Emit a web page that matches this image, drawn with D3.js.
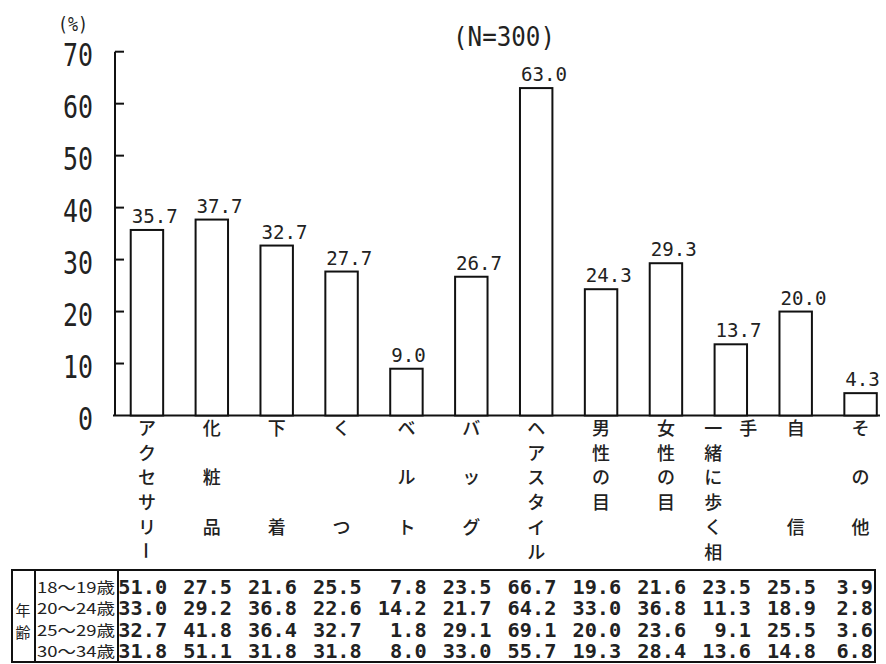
<!DOCTYPE html>
<html><head><meta charset="utf-8">
<script src="https://cdn.jsdelivr.net/npm/d3@7"></script>
<style>body{margin:0;background:#fff}</style>
</head><body>
<script>
const categories = ["アクセサリー","化粧品","下着","くつ","ベルト","バッグ","ヘアスタイル","男性の目","女性の目","一緒に歩く相手","自信","その他"];
const values = [35.7,37.7,32.7,27.7,9.0,26.7,63.0,24.3,29.3,13.7,20.0,4.3];
// vertical label layout: columns of characters, "　" = empty row
const labelColumns = [
  ["アクセサリー"],["化　粧　品"],["下　　　着"],["く　　　つ"],["ベ　ル　ト"],["バ　ッ　グ"],
  ["ヘアスタイル"],["男性の目"],["女性の目"],["一緒に歩く相","手"],["自　　　信"],["そ　の　他"]
];
const yTicks = [0,10,20,30,40,50,60,70];
const ageGroups = ["18〜19歳","20〜24歳","25〜29歳","30〜34歳"];
const age18_19 = [51.0,27.5,21.6,25.5,7.8,23.5,66.7,19.6,21.6,23.5,25.5,3.9];
const age20_24 = [33.0,29.2,36.8,22.6,14.2,21.7,64.2,33.0,36.8,11.3,18.9,2.8];
const age25_29 = [32.7,41.8,36.4,32.7,1.8,29.1,69.1,20.0,23.6,9.1,25.5,3.6];
const age30_34 = [31.8,51.1,31.8,31.8,8.0,33.0,55.7,19.3,28.4,13.6,14.8,6.8];
const tableRows = [age18_19,age20_24,age25_29,age30_34];

const W=886,H=664;
const svg=d3.select("body").append("svg").attr("width",W).attr("height",H);
const mono="'DejaVu Sans Mono', monospace";
const cjk="'Noto Sans CJK JP', sans-serif";

const x=d3.scaleBand().domain(categories).range([114.5,893]).paddingInner(0.5).paddingOuter(0.25);
const y=d3.scaleLinear().domain([0,70]).range([415.5,51.7]);

// y axis
const axisX=115;
svg.append("line").attr("x1",axisX).attr("x2",axisX).attr("y1",y(70)).attr("y2",y(0)).attr("stroke","#111").attr("stroke-width",2);
svg.selectAll(".tk").data(yTicks.filter(d=>d>0)).join("line")
  .attr("x1",axisX).attr("x2",axisX+9).attr("y1",d=>y(d)).attr("y2",d=>y(d)).attr("stroke","#111").attr("stroke-width",2);
svg.selectAll(".tl").data(yTicks).join("text")
  .attr("x",93).attr("y",d=>y(d)+14).attr("text-anchor","end")
  .attr("font-family",mono).attr("font-size",32).attr("fill","#222")
  .attr("textLength",d=>String(d).length*15).attr("lengthAdjust","spacingAndGlyphs")
  .text(d=>d);
// baseline
svg.append("line").attr("x1",axisX-2).attr("x2",880).attr("y1",y(0)).attr("y2",y(0)).attr("stroke","#111").attr("stroke-width",2);

svg.append("text").attr("x",58).attr("y",31).attr("font-family",mono).attr("font-size",20)
  .attr("textLength",30).attr("lengthAdjust","spacingAndGlyphs").attr("fill","#222").text("(%)");
svg.append("text").attr("x",453).attr("y",46).attr("font-family",mono).attr("font-size",27)
  .attr("textLength",102).attr("lengthAdjust","spacingAndGlyphs").attr("fill","#222").text("(N=300)");

// bars
svg.selectAll(".bar").data(categories).join("rect")
  .attr("x",d=>x(d)).attr("width",x.bandwidth())
  .attr("y",(d,i)=>y(values[i])).attr("height",(d,i)=>y(0)-y(values[i]))
  .attr("fill","#fff").attr("stroke","#111").attr("stroke-width",2);
svg.selectAll(".vl").data(categories).join("text")
  .attr("x",d=>x(d)+1).attr("y",(d,i)=>y(values[i])-7)
  .attr("font-family",mono).attr("font-size",20).attr("fill","#222")
  .attr("textLength",(d,i)=>values[i].toFixed(1).length*11.5).attr("lengthAdjust","spacingAndGlyphs")
  .text((d,i)=>values[i].toFixed(1));

// category labels (vertical)
const rowY0=427, rowStep=24.7;
categories.forEach((c,i)=>{
  const cols=labelColumns[i];
  const cx=x(c)+x.bandwidth()/2;
  cols.forEach((col,j)=>{
    const off = cols.length>1 ? (j-(cols.length-1)/2)*35 : 0;
    Array.from(col).forEach((ch,k)=>{
      if(ch==="　")return;
      const px=cx+off, py=rowY0+k*rowStep;
      svg.append("text").attr("x",px).attr("y",py)
        .attr("text-anchor","middle").attr("dominant-baseline","central")
        .attr("font-family",cjk).attr("font-size",18).attr("font-weight",500).attr("fill","#222")
        .attr("transform",ch==="ー"?`rotate(90,${px},${py})`:null)
        .text(ch);
    });
  });
});

// table
const tTop=570,tBot=662,tL=12,tR=875;
const g=svg.append("g").attr("stroke","#111").attr("stroke-width",2).attr("fill","none");
g.append("rect").attr("x",tL).attr("y",tTop).attr("width",tR-tL).attr("height",tBot-tTop);
g.append("line").attr("x1",35).attr("x2",35).attr("y1",tTop).attr("y2",tBot);
g.append("line").attr("x1",118).attr("x2",118).attr("y1",tTop).attr("y2",tBot);
svg.append("text").attr("x",23).attr("y",609).attr("text-anchor","middle").attr("dominant-baseline","central")
  .attr("font-family",cjk).attr("font-size",15).attr("fill","#222").text("年");
svg.append("text").attr("x",23).attr("y",631).attr("text-anchor","middle").attr("dominant-baseline","central")
  .attr("font-family",cjk).attr("font-size",15).attr("fill","#222").text("齢");
const rowBase=i=>594+i*21.3;
svg.selectAll(".ag").data(ageGroups).join("text")
  .attr("x",37).attr("y",(d,i)=>rowBase(i)-1).attr("font-family",cjk).attr("font-size",15).attr("fill","#222")
  .attr("textLength",78).attr("lengthAdjust","spacingAndGlyphs").text(d=>d);
tableRows.forEach((row,r)=>{
  svg.selectAll(".tr"+r).data(row).join("text")
    .attr("x",(d,i)=>Math.min(x(categories[i])+x.bandwidth()+4,873)).attr("y",rowBase(r))
    .attr("text-anchor","end").attr("font-family",mono).attr("font-weight","bold").attr("font-size",19).attr("fill","#222")
    .attr("textLength",d=>d.toFixed(1).length*12.2).attr("lengthAdjust","spacingAndGlyphs")
    .text(d=>d.toFixed(1));
});
</script>
</body></html>
